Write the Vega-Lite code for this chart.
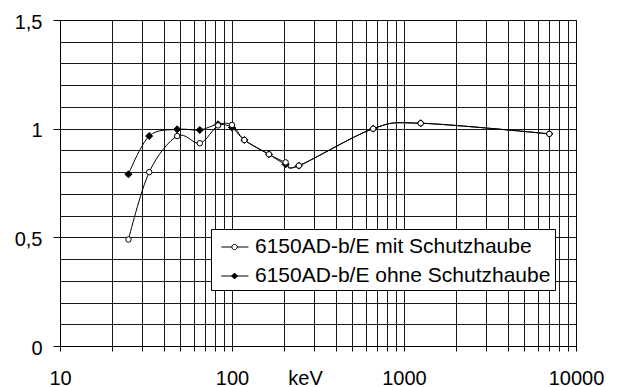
{
  "$schema": "https://vega.github.io/schema/vega-lite/v6.json",
  "width": 516,
  "height": 326,
  "autosize": {"type": "none"},
  "padding": {"left": 60, "top": 20, "right": 42, "bottom": 41},
  "config": {
    "font": "Liberation Sans",
    "view": {"stroke": "#808080", "strokeWidth": 1},
    "axis": {"gridColor": "#000000", "gridOpacity": 0.9, "gridWidth": 1, "domainColor": "#000000", "tickColor": "#000000", "labelColor": "#000000", "labelFontSize": 20, "labelFont": "Liberation Sans"}
  },
  "data": {
    "values": [
      {"E": 25, "R": 0.49, "serie": "6150AD-b/E mit Schutzhaube"},
      {"E": 33, "R": 0.80, "serie": "6150AD-b/E mit Schutzhaube"},
      {"E": 48, "R": 0.966, "serie": "6150AD-b/E mit Schutzhaube"},
      {"E": 65, "R": 0.933, "serie": "6150AD-b/E mit Schutzhaube"},
      {"E": 83, "R": 1.015, "serie": "6150AD-b/E mit Schutzhaube"},
      {"E": 100, "R": 1.017, "serie": "6150AD-b/E mit Schutzhaube"},
      {"E": 118, "R": 0.948, "serie": "6150AD-b/E mit Schutzhaube"},
      {"E": 164, "R": 0.882, "serie": "6150AD-b/E mit Schutzhaube"},
      {"E": 205, "R": 0.845, "serie": "6150AD-b/E mit Schutzhaube"},
      {"E": 245, "R": 0.83, "serie": "6150AD-b/E mit Schutzhaube"},
      {"E": 662, "R": 1.0, "serie": "6150AD-b/E mit Schutzhaube"},
      {"E": 1250, "R": 1.025, "serie": "6150AD-b/E mit Schutzhaube"},
      {"E": 7000, "R": 0.976, "serie": "6150AD-b/E mit Schutzhaube"},
      {"E": 25, "R": 0.79, "serie": "6150AD-b/E ohne Schutzhaube"},
      {"E": 33, "R": 0.966, "serie": "6150AD-b/E ohne Schutzhaube"},
      {"E": 48, "R": 0.997, "serie": "6150AD-b/E ohne Schutzhaube"},
      {"E": 65, "R": 0.994, "serie": "6150AD-b/E ohne Schutzhaube"},
      {"E": 83, "R": 1.02, "serie": "6150AD-b/E ohne Schutzhaube"},
      {"E": 100, "R": 1.005, "serie": "6150AD-b/E ohne Schutzhaube"},
      {"E": 118, "R": 0.948, "serie": "6150AD-b/E ohne Schutzhaube"},
      {"E": 164, "R": 0.882, "serie": "6150AD-b/E ohne Schutzhaube"},
      {"E": 205, "R": 0.836, "serie": "6150AD-b/E ohne Schutzhaube"},
      {"E": 245, "R": 0.83, "serie": "6150AD-b/E ohne Schutzhaube"},
      {"E": 662, "R": 1.0, "serie": "6150AD-b/E ohne Schutzhaube"},
      {"E": 1250, "R": 1.025, "serie": "6150AD-b/E ohne Schutzhaube"},
      {"E": 7000, "R": 0.976, "serie": "6150AD-b/E ohne Schutzhaube"}
    ]
  },
  "encoding": {
    "x": {
      "field": "E", "type": "quantitative",
      "scale": {"type": "log", "domain": [10, 10000], "nice": false},
      "axis": {
        "values": [10,20,30,40,50,60,70,80,90,100,200,300,400,500,600,700,800,900,1000,2000,3000,4000,5000,6000,7000,8000,9000,10000],
        "labelExpr": "indexof([10,100,1000,10000], datum.value) >= 0 ? format(datum.value, 'd') : ''",
        "labelOverlap": false, "labelFlush": false,
        "tickSize": 5, "labelPadding": 17, "labelBaseline": "top",
        "title": "keV", "titleFontSize": 20, "titleFontWeight": "normal", "titleFont": "Liberation Sans", "titleColor": "#000000",
        "titleX": 245, "titleY": 22, "titleBaseline": "top", "titleAnchor": "middle", "titleAlign": "center"
      }
    },
    "y": {
      "field": "R", "type": "quantitative",
      "scale": {"domain": [0, 1.5], "nice": false},
      "axis": {
        "values": [0,0.1,0.2,0.3,0.4,0.5,0.6,0.7,0.8,0.9,1,1.1,1.2,1.3,1.4,1.5],
        "labelExpr": "round(datum.value*10) % 5 === 0 ? replace(format(datum.value, '~g'), '.', ',') : ''",
        "tickOpacity": {"condition": {"test": "round(datum.value*10) % 5 === 0", "value": 1}, "value": 0},
        "tickSize": 7, "labelPadding": 11, "labelOverlap": false, "labelFlush": false, "labelOffset": 2,
        "title": null
      }
    }
  },
  "layer": [
    {
      "mark": {"type": "line", "interpolate": "cardinal", "stroke": "#000000", "strokeWidth": 1},
      "encoding": {"detail": {"field": "serie"}}
    },
    {
      "mark": {"type": "point", "filled": false, "opacity": 1, "stroke": "#000000", "strokeWidth": 1},
      "encoding": {
        "shape": {
          "condition": {"test": "datum.serie === '6150AD-b/E mit Schutzhaube'", "value": "circle"},
          "value": "diamond"
        },
        "fill": {
          "condition": {"test": "datum.serie === '6150AD-b/E mit Schutzhaube'", "value": "#ffffff"},
          "value": "#000000"
        },
        "size": {
          "condition": {"test": "datum.serie === '6150AD-b/E mit Schutzhaube'", "value": 30},
          "value": 50
        },
        "order": {"field": "serie", "sort": "descending"}
      }
    },
    {
      "mark": {"type": "point", "filled": false, "size": 0, "strokeWidth": 1},
      "encoding": {
        "shape": {
          "field": "serie", "type": "nominal",
          "scale": {"domain": ["6150AD-b/E mit Schutzhaube", "6150AD-b/E ohne Schutzhaube"], "range": ["M-0.56,0H0.21M0.61,0H1.44M0.61,0A0.2,0.2 0 1,1 0.21,0A0.2,0.2 0 1,1 0.61,0Z", "M-0.56,0H1.44M0.41,-0.22L0.63,0L0.41,0.22L0.19,0Z"]},
          "legend": {
            "title": null, "orient": "none", "legendX": 151, "legendY": 209,
            "fillColor": "#ffffff", "strokeColor": "#000000", "padding": 4,
            "labelFontSize": 21, "labelFont": "Liberation Sans", "labelColor": "#000000", "labelLimit": 500,
            "symbolSize": 729, "symbolOpacity": 1, "symbolStrokeWidth": 1,
            "labelOffset": 12, "rowPadding": 5
          }
        },
        "fill": {
          "field": "serie", "type": "nominal",
          "scale": {"domain": ["6150AD-b/E mit Schutzhaube", "6150AD-b/E ohne Schutzhaube"], "range": ["#ffffff", "#000000"]}
        },
        "stroke": {
          "field": "serie", "type": "nominal",
          "scale": {"domain": ["6150AD-b/E mit Schutzhaube", "6150AD-b/E ohne Schutzhaube"], "range": ["#000000", "#000000"]}
        }
      }
    }
  ]
}
